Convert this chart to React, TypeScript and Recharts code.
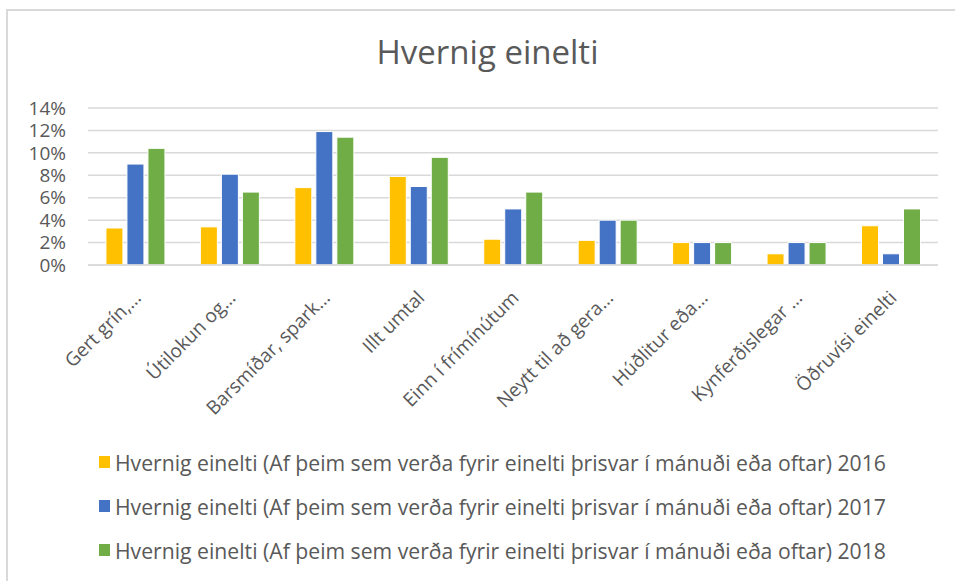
import React from "react";
import { BarChart, Bar, XAxis, YAxis, CartesianGrid, Legend } from "recharts";

const categories = [
  "Gert grín,…",
  "Útilokun og…",
  "Barsmíðar, spark…",
  "Illt umtal",
  "Einn í frímínútum",
  "Neytt til að gera…",
  "Húðlitur eða…",
  "Kynferðislegar …",
  "Öðruvísi einelti",
];
const values2016 = [3.3, 3.4, 6.9, 7.9, 2.3, 2.2, 2.0, 1.0, 3.5];
const values2017 = [9.0, 8.1, 11.9, 7.0, 5.0, 4.0, 2.0, 2.0, 1.0];
const values2018 = [10.4, 6.5, 11.4, 9.6, 6.5, 4.0, 2.0, 2.0, 5.0];
const yTicks = [0, 2, 4, 6, 8, 10, 12, 14];
const seriesNames = [
  "Hvernig einelti (Af þeim sem verða fyrir einelti þrisvar í mánuði eða oftar) 2016",
  "Hvernig einelti (Af þeim sem verða fyrir einelti þrisvar í mánuði eða oftar) 2017",
  "Hvernig einelti (Af þeim sem verða fyrir einelti þrisvar í mánuði eða oftar) 2018",
];
const colors = ["#FFC000", "#4472C4", "#70AD47"];
const title = "Hvernig einelti";

const data = categories.map((c, i) => ({
  name: c,
  s2016: values2016[i],
  s2017: values2017[i],
  s2018: values2018[i],
}));

const FONT = "'Open Sans', sans-serif";
const TEXT = "#595959";

const XTick = (props: any) => {
  const { x, y, payload } = props;
  return (
    <g transform={`translate(${x + 7},${y + 26})`}>
      <text
        x={0}
        y={0}
        textAnchor="end"
        transform="rotate(-45)"
        fill={TEXT}
        fontSize={19}
        fontFamily={FONT}
      >
        {payload.value}
      </text>
    </g>
  );
};

const LegendContent = () => (
  <div style={{ fontFamily: FONT, color: TEXT, fontSize: 21.2 }}>
    {seriesNames.map((n, i) => (
      <div
        key={n}
        style={{ display: "flex", alignItems: "center", height: 44, whiteSpace: "nowrap" }}
      >
        <span
          style={{
            display: "inline-block",
            width: 11,
            height: 12,
            background: colors[i],
            marginRight: 5,
          }}
        />
        <span>{n}</span>
      </div>
    ))}
  </div>
);

export default function App() {
  return (
    <div
      style={{
        position: "absolute",
        left: 0,
        top: 0,
        width: 955,
        height: 581,
        background: "#fff",
        overflow: "hidden",
      }}
    >
      <div
        style={{
          position: "absolute",
          left: 6,
          top: 9,
          width: 949,
          height: 572,
          borderLeft: "2px solid #d9d9d9",
          borderTop: "2px solid #d9d9d9",
        }}
      />
      <div
        style={{
          position: "absolute",
          left: 0,
          top: 29,
          width: 975,
          textAlign: "center",
          fontFamily: FONT,
          fontSize: 33,
          color: TEXT,
        }}
      >
        {title}
      </div>
      <div style={{ position: "absolute", left: 0, top: 0 }}>
        <BarChart
          width={955}
          height={581}
          data={data}
          margin={{ top: 108, right: 17, left: 0, bottom: 0 }}
          barCategoryGap="19%"
          barGap={4}
        >
          <CartesianGrid vertical={false} stroke="#d9d9d9" strokeWidth={1.5} />
          <XAxis
            dataKey="name"
            interval={0}
            height={316}
            axisLine={{ stroke: "#d9d9d9", strokeWidth: 1.5 }}
            tickLine={false}
            tick={<XTick />}
          />
          <YAxis
            width={88}
            domain={[0, 14]}
            ticks={yTicks}
            interval={0}
            axisLine={false}
            tickLine={false}
            tickMargin={16}
            tickFormatter={(v: number) => `${v}%`}
            tick={{ fill: TEXT, fontSize: 19, fontFamily: FONT }}
          />
          <Legend
            layout="vertical"
            align="center"
            verticalAlign="middle"
            wrapperStyle={{ top: 440, left: 99, width: 860 }}
            content={<LegendContent />}
          />
          <Bar dataKey="s2016" name={seriesNames[0]} fill={colors[0]} stroke="#fff" strokeWidth={1} isAnimationActive={false} />
          <Bar dataKey="s2017" name={seriesNames[1]} fill={colors[1]} stroke="#fff" strokeWidth={1} isAnimationActive={false} />
          <Bar dataKey="s2018" name={seriesNames[2]} fill={colors[2]} stroke="#fff" strokeWidth={1} isAnimationActive={false} />
        </BarChart>
      </div>
    </div>
  );
}
